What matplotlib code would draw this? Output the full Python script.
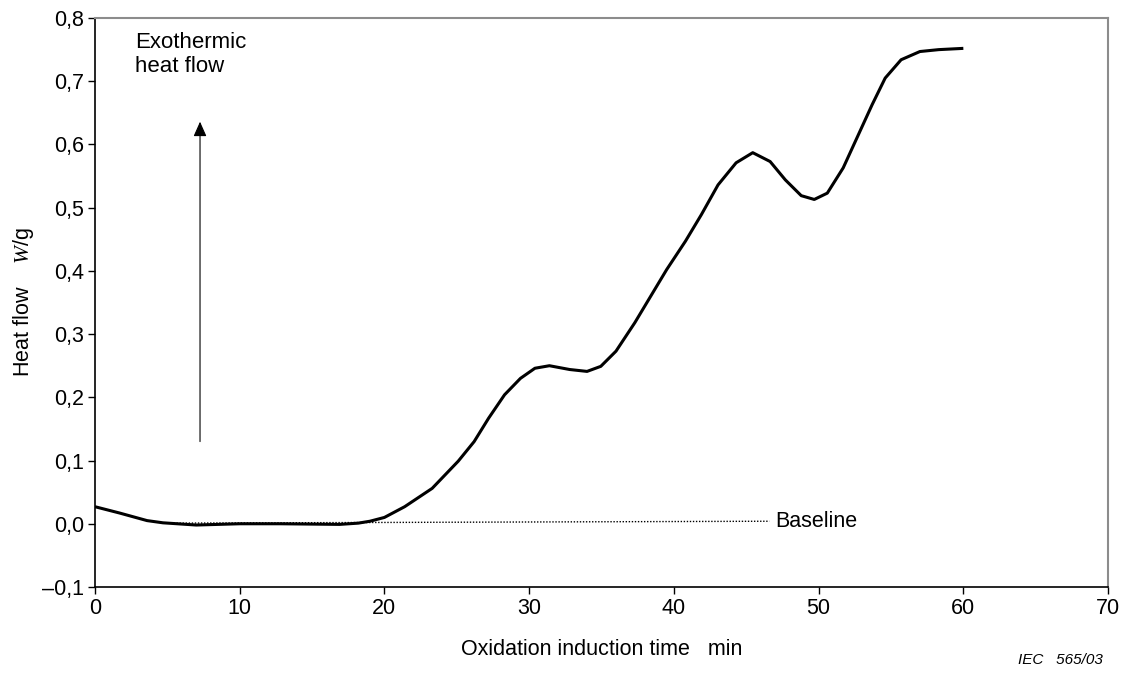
import matplotlib

matplotlib.use("Agg")
import matplotlib.pyplot as plt
from matplotlib.ticker import FuncFormatter

plt.rcParams["font.family"] = ["Liberation Sans", "DejaVu Sans"]
plt.rcParams["mathtext.fontset"] = "custom"
plt.rcParams["mathtext.it"] = "Liberation Serif:italic"
plt.rcParams["mathtext.rm"] = "Liberation Sans"

# OIT thermogram: heat flow (W/g) vs time (min)
time_min = [0, 1.7, 3.6, 4.7, 7, 10, 12.8, 16.9, 18.2, 19.0, 20.0, 21.4,
            23.3, 25.1, 26.2, 27.2, 28.3, 29.4, 30.4, 31.4, 32.8, 34.0, 34.95,
            36.0, 37.3, 38.4, 39.5, 40.8, 41.9, 43.05, 44.3, 45.45, 46.65,
            47.7, 48.8, 49.7, 50.6, 51.7, 52.8, 53.7, 54.6, 55.7, 57.0, 58.3,
            60.0]
heat_flow = [0.027, 0.017, 0.005, 0.0015, -0.002, 0.0, 0.0, -0.001, 0.001,
             0.004, 0.010, 0.027, 0.056, 0.099, 0.130, 0.167, 0.204, 0.230,
             0.246, 0.250, 0.244, 0.241, 0.249, 0.273, 0.318, 0.360, 0.402,
             0.447, 0.489, 0.536, 0.571, 0.587, 0.573, 0.544, 0.519, 0.513,
             0.523, 0.563, 0.618, 0.663, 0.705, 0.734, 0.747, 0.750, 0.752]

baseline_t = [5, 46.6]
baseline_q = [0.001, 0.004]

x_ticks = [0, 10, 20, 30, 40, 50, 60, 70]
y_ticks = [-0.1, 0.0, 0.1, 0.2, 0.3, 0.4, 0.5, 0.6, 0.7, 0.8]

fs = 15.5

fig = plt.figure(figsize=(11.33, 6.75), dpi=100)
ax = fig.add_axes([0.0838, 0.1304, 0.8942, 0.8429])

ax.plot(baseline_t, baseline_q, color="black", lw=1.0, linestyle=(0, (1, 1.2)),
        zorder=2)
ax.plot(time_min, heat_flow, color="black", lw=2.2, solid_joinstyle="round",
        solid_capstyle="butt", zorder=3)

ax.set_xlim(0, 70)
ax.set_ylim(-0.1, 0.8)
ax.set_xticks(x_ticks)
ax.set_yticks(y_ticks)


def _comma(v, pos):
    s = f"{v:.1f}".replace(".", ",")
    return s.replace("-", "\u2013")


ax.yaxis.set_major_formatter(FuncFormatter(_comma))
ax.tick_params(direction="out", length=5, width=1.0, labelsize=fs, pad=3)

for side in ("left", "bottom"):
    ax.spines[side].set_color("black")
    ax.spines[side].set_linewidth(1.2)
for side in ("top", "right"):
    ax.spines[side].set_color("#8c8c8c")
    ax.spines[side].set_linewidth(1.5)

ax.set_xlabel("Oxidation induction time   min", fontsize=fs, labelpad=14)
ax.set_ylabel("Heat flow    $W$/g", fontsize=fs, labelpad=4)

# exothermic direction marker
ax.annotate("", xy=(7.26, 0.636), xytext=(7.26, 0.13),
            arrowprops=dict(arrowstyle="-|>,head_length=0.9,head_width=0.4",
                            color="black", lw=0.8, shrinkA=0, shrinkB=0))
ax.text(2.8, 0.778, "Exothermic\nheat flow", fontsize=16, va="top",
        ha="left", linespacing=1.2)

ax.text(47.0, 0.003, "Baseline", fontsize=fs, va="center", ha="left")

fig.text(0.973, 0.022, "IEC   565/03", fontsize=11, style="italic",
         ha="right", va="center")

fig.savefig("out.png", dpi=100)
plt.close(fig)
